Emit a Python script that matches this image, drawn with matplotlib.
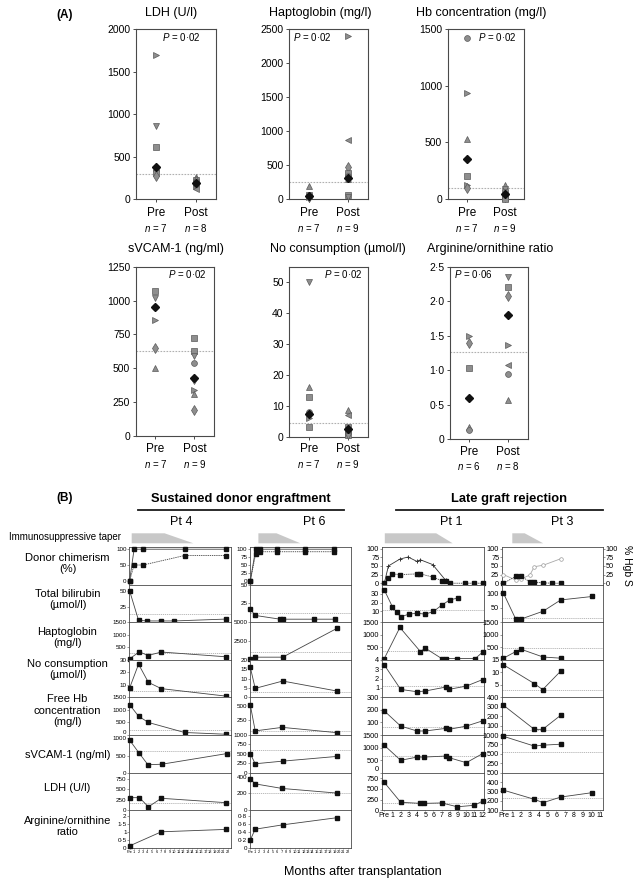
"""Recreation of the two-panel haemolysis/chimerism figure (A: pre/post scatter, B: per-patient time courses)."""

import matplotlib

matplotlib.use("Agg")
import matplotlib.pyplot as plt
from matplotlib.lines import Line2D
from matplotlib.patches import Polygon

W, H = 638, 886
plt.rcParams["font.family"] = ["Liberation Sans", "DejaVu Sans"]
plt.rcParams["mathtext.fontset"] = "custom"
plt.rcParams["mathtext.rm"] = "Liberation Sans"
plt.rcParams["mathtext.it"] = "Liberation Sans:italic"

# ---------------- panel A data (value, marker per patient) ----------------
LDH_PRE = [1700, 860, 620, 380, 350, 310, 270]
LDH_PRE_MK = [">", "v", "s", "D", "o", "s", "d"]
LDH_POST = [260, 230, 210, 195, 180, 160, 140, 120]
LDH_POST_MK = ["^", "s", "d", "D", "o", ">", "v", "<"]

HAPTO_PRE = [200, 70, 60, 50, 40, 30, 20]
HAPTO_PRE_MK = ["^", "o", "s", "D", "d", ">", "v"]
HAPTO_POST = [2400, 870, 480, 380, 340, 320, 300, 70, 40]
HAPTO_POST_MK = [">", "<", "d", "s", "o", "D", "^", "s", "v"]

HB_PRE = [1420, 940, 530, 350, 200, 120, 100]
HB_PRE_MK = ["o", ">", "^", "D", "s", ">", "d"]
HB_POST = [120, 90, 60, 40, 30, 20, 10, 5, 0]
HB_POST_MK = ["^", "v", "s", "D", "o", "d", ">", "<", "s"]

VCAM_PRE = [1070, 1020, 955, 950, 860, 650, 500]
VCAM_PRE_MK = ["s", "v", "o", "D", ">", "d", "^"]
VCAM_POST = [720, 630, 590, 540, 430, 420, 340, 310, 195]
VCAM_POST_MK = ["s", "s", "v", "o", "D", "d", ">", "^", "d"]

NO_PRE = [50, 16, 13, 8, 7.5, 6, 3]
NO_PRE_MK = ["v", "^", "s", "o", "D", ">", "s"]
NO_POST = [8.5, 7, 3, 2.5, 2, 1.5, 1, 0.5, 0.3]
NO_POST_MK = ["^", "<", "s", "D", "o", "d", ">", "s", "v"]

ARG_PRE = [1.5, 1.4, 1.03, 0.6, 0.17, 0.13]
ARG_PRE_MK = [">", "d", "s", "D", "^", "o"]
ARG_POST = [2.35, 2.2, 2.08, 1.8, 1.37, 1.07, 0.95, 0.56]
ARG_POST_MK = ["v", "s", "d", "D", ">", "<", "o", "^"]

# ---------------- panel B data (months after transplant, values) ----------------
PT4_CHIM_M = [0, 1, 3, 12.3, 21.6]
PT4_CHIM_A = [0, 100, 100, 100, 100]
PT4_CHIM_B = [0, 50, 50, 80, 80]
PT4_BILI_M = [0, 2, 4, 7, 10, 21.6]
PT4_BILI = [50, 3, 2, 2, 2, 5]
PT4_HAPTO_M = [0, 2.2, 4.1, 7.1, 21.6]
PT4_HAPTO = [40, 320, 170, 310, 120]
PT4_NO_M = [0, 2, 4.2, 7.1, 21.6]
PT4_NO = [7.5, 26.5, 12, 7, 1]
PT4_FHB_M = [0, 2, 4.2, 12.3, 21.6]
PT4_FHB = [1210, 750, 500, 100, 30]
PT4_VCAM_M = [0, 2.1, 4.1, 7.2, 21.7]
PT4_VCAM = [950, 575, 230, 245, 555]
PT4_LDH_M = [0, 2.2, 4.2, 7.1, 21.6]
PT4_LDH = [300, 300, 80, 285, 180]
PT4_ARG_M = [0, 7.1, 21.6]
PT4_ARG = [0.12, 1.0, 1.15]

PT6_CHIM_M = [0, 1.2, 2.1, 6.1, 12.4, 18.8]
PT6_CHIM_A = [0, 100, 100, 100, 100, 100]
PT6_CHIM_B = [0, 85, 92, 92, 92, 92]
PT6_BILI_M = [0, 1.1, 6.7, 7.3, 14.4, 19.0]
PT6_BILI = [17.5, 9, 4, 4, 4, 4]
PT6_HAPTO_M = [0, 1.1, 7.3, 19.5]
PT6_HAPTO = [170, 350, 350, 4170]
PT6_NO_M = [0, 1.1, 7.3, 19.5]
PT6_NO = [16, 4.8, 8.7, 3.4]
PT6_FHB_M = [0, 1.1, 7.2, 19.5]
PT6_FHB = [510, 70, 130, 40]
PT6_VCAM_M = [0, 1.1, 7.3, 19.5]
PT6_VCAM = [505, 235, 305, 430]
PT6_LDH_M = [0, 1.1, 7.2, 19.5]
PT6_LDH = [375, 315, 260, 205]
PT6_ARG_M = [0, 1.1, 7.3, 19.5]
PT6_ARG = [0.2, 0.47, 0.58, 0.76]

PT1_CHIM_M = [0, 0.5, 1.0, 1.9, 4.0, 4.4, 5.9, 7.0, 7.5, 8.0, 9.8, 10.9, 12]
PT1_CHIM_SQ = [0, 15, 27, 25, 27, 27, 18, 7.5, 5.5, 0, 0, 0, 0]
PT1_PLUS_M = [0, 0.5, 1.9, 2.9, 4.0, 4.4, 5.9, 7.5, 8.0]
PT1_PLUS = [0, 50, 70, 76, 63, 68, 54, 8, 0]
PT1_BILI_M = [0, 1, 1.5, 2, 3, 4, 5, 6, 7, 8, 9]
PT1_BILI = [34, 15, 9, 4, 7, 8, 7, 10, 17, 23, 25]
PT1_HAPTO_M = [0, 1.9, 4.4, 5.0, 7.0, 7.5, 8.9, 11.1, 12]
PT1_HAPTO = [50, 1290, 330, 465, 50, 50, 50, 50, 310]
PT1_NO_M = [0, 2, 4, 5, 7.5, 7.9, 10, 12]
PT1_NO = [3.45, 0.85, 0.6, 0.68, 1.1, 0.86, 1.2, 1.9]
PT1_FHB_M = [0, 2, 4, 5, 7.5, 7.9, 10, 12]
PT1_FHB = [192, 71, 32, 32, 53, 45, 71, 113]
PT1_VCAM_M = [0, 2, 4, 4.9, 7.5, 7.9, 10, 12]
PT1_VCAM = [1090, 490, 620, 620, 660, 595, 395, 760]
PT1_LDH_M = [0, 2, 4.4, 4.9, 7.0, 8.9, 11, 12]
PT1_LDH = [650, 185, 160, 160, 170, 80, 115, 215]

PT3_CHIM_M = [0, 1.4, 2.0, 3.0, 3.5, 4.5, 5.5, 6.5]
PT3_CHIM_SQ = [0, 20, 20, 4, 3, 1, 0, 0]
PT3_HGBS_M = [0, 1.4, 2.0, 3.0, 3.5, 4.5, 6.5]
PT3_HGBS = [25, 9, 12, 24, 48, 52, 71]
PT3_BILI_M = [0, 1.4, 2.0, 4.5, 6.5, 10.1]
PT3_BILI = [100, 10, 11, 38, 77, 89]
PT3_HAPTO_M = [0, 1.4, 2.0, 4.5, 6.5]
PT3_HAPTO = [65, 330, 420, 110, 65]
PT3_NO_M = [0, 3.5, 4.45, 6.5]
PT3_NO = [13, 5.5, 3.1, 10.5]
PT3_FHB_M = [0, 3.5, 4.45, 6.5]
PT3_FHB = [316, 60, 60, 210]
PT3_VCAM_M = [0, 3.5, 4.5, 6.5]
PT3_VCAM = [965, 705, 730, 755]
PT3_LDH_M = [0, 3.5, 4.5, 6.5, 10.1]
PT3_LDH = [313, 216, 180, 240, 287]

ROW_LABELS = ["Donor chimerism\n(%)", "Total bilirubin\n(µmol/l)", "Haptoglobin\n(mg/l)",
              "No consumption\n(µmol/l)", "Free Hb\nconcentration\n(mg/l)", "sVCAM-1 (ng/ml)",
              "LDH (U/l)", "Arginine/ornithine\nratio"]

fig = plt.figure(figsize=(W / 100, H / 100), dpi=100)

GREY = "#8e8e8e"
EDGE = "#5a5a5a"
SPINE = "#4a4a4a"
REF = "#b0b0b0"


def px_axes(x0, y0, x1, y1):
    return fig.add_axes([x0 / W, 1 - y1 / H, (x1 - x0) / W, (y1 - y0) / H])


def ftext(x, y, s, **kw):
    kw.setdefault("ha", "center")
    kw.setdefault("va", "center")
    return fig.text(x / W, 1 - y / H, s, **kw)


def fmt(v):
    return f"{v:g}".replace(".", "·")


# ---------------- panel A ----------------
def scatter_panel(box, title, title_x, ylim, yticks, ylabels, ref, ptxt, p_fx,
                  pre, pre_mk, post, post_mk, n_pre, n_post, lab_y):
    x0, y0, x1, y1 = box
    ax = px_axes(x0, y0, x1, y1)
    ax.set_xlim(0.5, 2.5)
    ax.set_ylim(*ylim)
    ax.axhline(ref, color=REF, lw=0.8, ls=(0, (1.5, 1.2)), zorder=1)
    for vals, mks, xp in ((pre, pre_mk, 1), (post, post_mk, 2)):
        for v, m in zip(vals, mks):
            if m == "D":
                ax.plot(xp, v, marker="D", ms=4, mfc="#111111", mec="#111111",
                        clip_on=False, zorder=4)
            else:
                ax.plot(xp, v, marker=m, ms=4.6 if m == "d" else 4.2, mfc=GREY, mec=EDGE,
                        mew=0.5, clip_on=False, zorder=3)
    ax.set_yticks(yticks)
    ax.set_yticklabels(ylabels, fontsize=7.5)
    ax.set_xticks([1, 2])
    ax.set_xticklabels([])
    ax.tick_params(length=2.5, width=0.7, color=SPINE, pad=1.5)
    for sp in ax.spines.values():
        sp.set_linewidth(0.8)
        sp.set_color(SPINE)
    ax.text(p_fx, 0.955, ptxt, transform=ax.transAxes, ha="center", va="center", fontsize=7)
    ftext(title_x, 12.7 if y0 < 100 else 249.3, title, fontsize=9)
    for xp, word, n in ((1, "Pre", n_pre), (2, "Post", n_post)):
        xx = x0 + (xp - 0.5) / 2 * (x1 - x0)
        ftext(xx, lab_y, word, fontsize=8.5)
        ftext(xx, lab_y + 14.5, f"$n$ = {n}", fontsize=7)
    return ax


scatter_panel((136.2, 29.3, 215.6, 199.3), "LDH (U/l)", 170.8, (0, 2000),
              [0, 500, 1000, 1500, 2000], ["0", "500", "1000", "1500", "2000"], 300,
              "$P$ = 0·02", 0.57, LDH_PRE, LDH_PRE_MK, LDH_POST, LDH_POST_MK, 7, 8, 213)
scatter_panel((289.3, 29.3, 367.5, 199.3), "Haptoglobin (mg/l)", 320.2, (0, 2500),
              [0, 500, 1000, 1500, 2000, 2500], ["0", "500", "1000", "1500", "2000", "2500"], 260,
              "$P$ = 0·02", 0.29, HAPTO_PRE, HAPTO_PRE_MK, HAPTO_POST, HAPTO_POST_MK, 7, 9, 213)
scatter_panel((447.7, 29.3, 523.5, 199.0), "Hb concentration (mg/l)", 481.5, (0, 1500),
              [0, 500, 1000, 1500], ["0", "500", "1000", "1500"], 100,
              "$P$ = 0·02", 0.66, HB_PRE, HB_PRE_MK, HB_POST, HB_POST_MK, 7, 9, 213)
scatter_panel((135.8, 266.7, 214.0, 436.0), "sVCAM-1 (ng/ml)", 176.1, (0, 1250),
              [0, 250, 500, 750, 1000, 1250], ["0", "250", "500", "750", "1000", "1250"], 630,
              "$P$ = 0·02", 0.66, VCAM_PRE, VCAM_PRE_MK, VCAM_POST, VCAM_POST_MK, 7, 9, 449)
scatter_panel((289.3, 266.7, 367.5, 436.7), "No consumption (µmol/l)", 338.3, (0, 55.1),
              [0, 10, 20, 30, 40, 50], ["0", "10", "20", "30", "40", "50"], 4.3,
              "$P$ = 0·02", 0.69, NO_PRE, NO_PRE_MK, NO_POST, NO_POST_MK, 7, 9, 449)
scatter_panel((449.8, 266.7, 527.6, 439.0), "Arginine/ornithine ratio", 489.7, (0, 2.5),
              [0, 0.5, 1, 1.5, 2, 2.5], ["0", "0·5", "1·0", "1·5", "2·0", "2·5"], 1.26,
              "$P$ = 0·06", 0.30, ARG_PRE, ARG_PRE_MK, ARG_POST, ARG_POST_MK, 6, 8, 452)

ftext(65, 15, "(A)", fontsize=8.5, fontweight="bold")

# ---------------- panel B headers ----------------
ftext(65, 498, "(B)", fontsize=8.5, fontweight="bold")
ftext(240.7, 499, "Sustained donor engraftment", fontsize=9.3, fontweight="bold")
ftext(508.8, 499, "Late graft rejection", fontsize=9.3, fontweight="bold")
for xa, xb in ((137.9, 343.6), (396.3, 602.9)):
    fig.add_artist(Line2D([xa / W, xb / W], [1 - 510 / H] * 2, transform=fig.transFigure,
                          color="#1a1a1a", lw=1.3))
for x, s in ((181, "Pt 4"), (314, "Pt 6"), (451.4, "Pt 1"), (561.7, "Pt 3")):
    ftext(x, 522.3, s, fontsize=9)
ftext(9, 537.3, "Immunosuppressive taper", fontsize=7, ha="left")
for xa, xb, xc in ((131.7, 164.6, 193.4), (258.4, 276.5, 300.4),
                   (384.8, 436.2, 452.7), (512.3, 524.7, 543.2)):
    pts = [(xa, 533.3), (xb, 533.3), (xc, 543.3), (xa, 543.3)]
    fig.add_artist(Polygon([(p / W, 1 - q / H) for p, q in pts], closed=True,
                           transform=fig.transFigure, fc="#c8c8c8", ec="none"))

TOP, STEP = 547.0, 37.6
label_y = [563.3, 599.3, 637.3, 669.3, 710.5, 755, 788.3, 826.5]
for lab, yy in zip(ROW_LABELS, label_y):
    ftext(67.5, yy, lab, fontsize=8, linespacing=1.15)
ftext(363.3, 872.3, "Months after transplantation", fontsize=9.1)


def cell(x0, x1, row, xlim, ylim, yticks, ref, lines, tick_fs, lift=False):
    ya = TOP + row * STEP
    ax = px_axes(x0, ya, x1, ya + STEP)
    ax.set_xlim(*xlim)
    ax.set_ylim(*ylim)
    ax.set_yticks(yticks)
    labs = ax.set_yticklabels([fmt(t) for t in yticks], fontsize=tick_fs)
    if lift:
        labs[0].set_va("bottom")
    ax.tick_params(axis="y", length=1.4, width=0.4, pad=0.6, color=SPINE)
    ax.set_xticks([])
    for sp in ax.spines.values():
        sp.set_linewidth(0.6)
        sp.set_color(SPINE)
    if ref is not None:
        ax.axhline(ref, color=REF, lw=0.6, ls=(0, (1.5, 1.0)), zorder=1)
    for months, vals, style in lines:
        if style == "plus":
            ax.plot(months, vals, color="#333333", lw=0.6, marker="+", ms=3, mew=0.7,
                    clip_on=False, zorder=3)
        elif style == "circle":
            ax.plot(months, vals, color="#a8a8a8", lw=0.6, marker="o", ms=2.6, mfc="white",
                    mec="#9a9a9a", mew=0.5, clip_on=False, zorder=3)
        else:
            ax.plot(months, vals, color="#444444", lw=0.6,
                    ls=(0, (1.6, 1.0)) if style == "dash" else "-", marker="s", ms=2.4,
                    mfc="#111111", mec="#111111", clip_on=False, zorder=3)
    return ax


def bottom_ticks(ax, nmax, fs):
    ax.set_xticks(range(nmax + 1))
    ax.set_xticklabels(["Pre"] + [str(i) for i in range(1, nmax + 1)], fontsize=fs)
    ax.tick_params(axis="x", length=1.0, width=0.4, pad=0.5, color=SPINE)


# Pt 4
X4 = (129.3, 231.0)
XL4 = (-0.07, 22.7)
pt4_rows = [
    ((-12, 107), [0, 50, 100], None, [(PT4_CHIM_M, PT4_CHIM_A, "solid"), (PT4_CHIM_M, PT4_CHIM_B, "dash")]),
    ((0, 60), [25, 50], 13, [(PT4_BILI_M, PT4_BILI, "solid")]),
    ((0, 1500), [500, 1000, 1500], 290, [(PT4_HAPTO_M, PT4_HAPTO, "solid")]),
    ((0, 30), [10, 20, 30], 4.9, [(PT4_NO_M, PT4_NO, "solid")]),
    ((0, 1500), [0, 500, 1000, 1500], 190, [(PT4_FHB_M, PT4_FHB, "solid")]),
    ((0, 1100), [0, 500, 1000], 625, [(PT4_VCAM_M, PT4_VCAM, "solid")]),
    ((0, 900), [0, 250, 500, 750], 165, [(PT4_LDH_M, PT4_LDH, "solid")]),
    ((0, 2.35), [0, 0.5, 1, 1.5, 2], None, [(PT4_ARG_M, PT4_ARG, "solid")]),
]
for r, (yl, yt, ref, ln) in enumerate(pt4_rows):
    ax = cell(*X4, r, XL4, yl, yt, ref, ln, 4.5, lift=(r == 4))
bottom_ticks(ax, 22, 2.8)

# Pt 6
X6 = (250.0, 351.0)
pt6_rows = [
    ((-12, 107), [0, 25, 50, 75, 100], None, [(PT6_CHIM_M, PT6_CHIM_A, "solid"), (PT6_CHIM_M, PT6_CHIM_B, "dash")]),
    ((0, 50), [25, 50], 11.7, [(PT6_BILI_M, PT6_BILI, "solid")]),
    ((0, 5000), [2500, 5000], 1000, [(PT6_HAPTO_M, PT6_HAPTO, "solid")]),
    ((0, 20), [0, 5, 10, 15, 20], 3, [(PT6_NO_M, PT6_NO, "solid")]),
    ((0, 640), [250, 500], 60, [(PT6_FHB_M, PT6_FHB, "solid")]),
    ((0, 1000), [0, 250, 500, 750, 1000], 595, [(PT6_VCAM_M, PT6_VCAM, "solid")]),
    ((0, 450), [0, 200, 400], 205, [(PT6_LDH_M, PT6_LDH, "solid")]),
    ((0, 0.95), [0, 0.2, 0.4, 0.6, 0.8], None, [(PT6_ARG_M, PT6_ARG, "solid")]),
]
for r, (yl, yt, ref, ln) in enumerate(pt6_rows):
    ax = cell(*X6, r, XL4, yl, yt, ref, ln, 4.5)
bottom_ticks(ax, 22, 2.8)

# Pt 1
X1 = (382.0, 484.0)
XL1 = (-0.28, 12.16)
pt1_rows = [
    ((-4, 105), [0, 25, 50, 75, 100], None, [(PT1_PLUS_M, PT1_PLUS, "plus"), (PT1_CHIM_M, PT1_CHIM_SQ, "dash")]),
    ((-2, 40), [10, 20, 30], 11.5, [(PT1_BILI_M, PT1_BILI, "solid")]),
    ((0, 1500), [500, 1000, 1500], 370, [(PT1_HAPTO_M, PT1_HAPTO, "solid")]),
    ((0, 4), [1, 2, 3, 4], 1.25, [(PT1_NO_M, PT1_NO, "solid")]),
    ((0, 300), [100, 200, 300], 61, [(PT1_FHB_M, PT1_FHB, "solid")]),
    ((0, 1500), [0, 500, 1000, 1500], 650, [(PT1_VCAM_M, PT1_VCAM, "solid")]),
    ((0, 880), [0, 250, 500, 750], 170, [(PT1_LDH_M, PT1_LDH, "solid")]),
]
for r, (yl, yt, ref, ln) in enumerate(pt1_rows):
    ax = cell(*X1, r, XL1, yl, yt, ref, ln, 5.3, lift=(r == 5))
bottom_ticks(ax, 12, 5)

# Pt 3
X3 = (502.0, 603.0)
XL3 = (-0.17, 11.3)
pt3_rows = [
    ((-4, 105), [0, 25, 50, 75, 100], None, [(PT3_HGBS_M, PT3_HGBS, "circle"), (PT3_CHIM_M, PT3_CHIM_SQ, "dash")]),
    ((0, 130), [50, 100], 13, [(PT3_BILI_M, PT3_BILI, "solid")]),
    ((0, 1500), [500, 1000, 1500], 460, [(PT3_HAPTO_M, PT3_HAPTO, "solid")]),
    ((0, 15), [5, 10, 15], 2.8, [(PT3_NO_M, PT3_NO, "solid")]),
    ((0, 400), [100, 200, 300, 400], 50, [(PT3_FHB_M, PT3_FHB, "solid")]),
    ((0, 1000), [250, 500, 750, 1000], 550, [(PT3_VCAM_M, PT3_VCAM, "solid")]),
    ((100, 500), [100, 200, 300, 400, 500], 235, [(PT3_LDH_M, PT3_LDH, "solid")]),
]
for r, (yl, yt, ref, ln) in enumerate(pt3_rows):
    ax = cell(*X3, r, XL3, yl, yt, ref, ln, 5.3)
    if r == 0:
        tw = ax.twinx()
        tw.set_ylim(*yl)
        tw.set_yticks(yt)
        tw.set_yticklabels([fmt(t) for t in yt], fontsize=5.3)
        tw.tick_params(axis="y", length=1.4, width=0.4, pad=0.6, color=SPINE)
        for sp in tw.spines.values():
            sp.set_visible(False)
bottom_ticks(ax, 11, 5)
ftext(627, 565, "% Hgb S", fontsize=7.5, rotation=270)

fig.savefig("out.png", dpi=100)
